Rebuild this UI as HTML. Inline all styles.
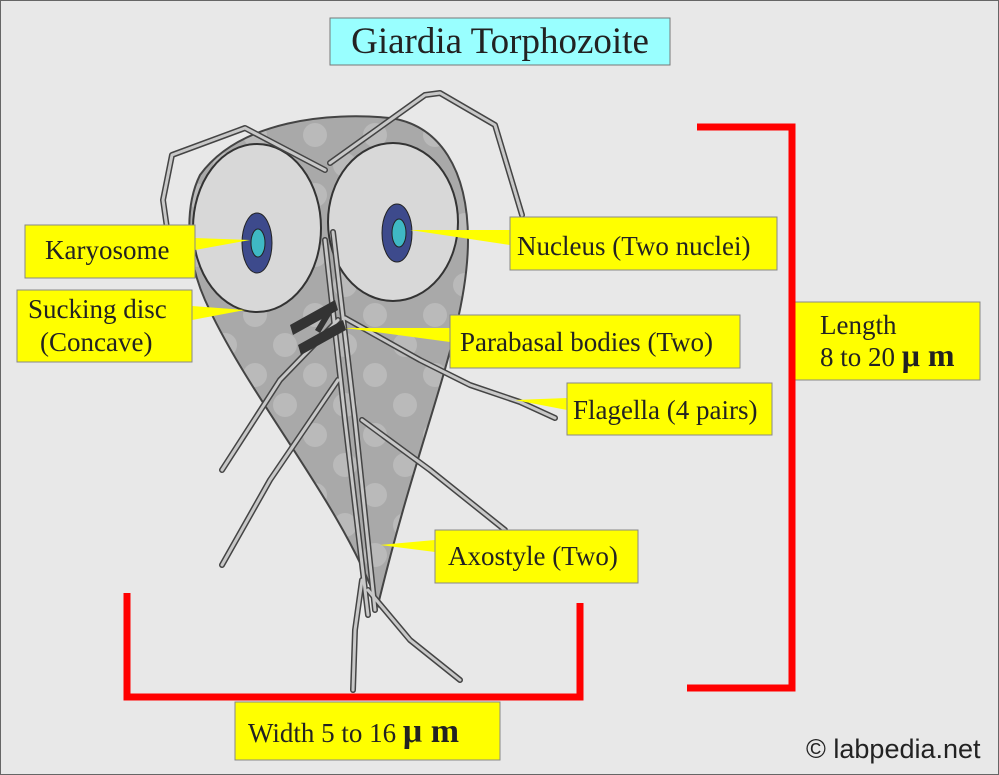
<!DOCTYPE html>
<html><head><meta charset="utf-8"><style>html,body{margin:0;padding:0;background:#e8e8e8}svg{display:block}</style></head><body>
<svg width="999" height="775" viewBox="0 0 999 775" xmlns="http://www.w3.org/2000/svg" font-family="Liberation Serif, serif">
<defs>
<pattern id="dots" width="60" height="60" patternUnits="userSpaceOnUse">
<rect width="60" height="60" fill="#a9a9a9"/>
<circle cx="15" cy="15" r="12" fill="#bababa"/>
<circle cx="45" cy="45" r="12" fill="#bababa"/>
</pattern>
</defs>
<rect x="0.5" y="0.5" width="998" height="774" fill="#e8e8e8" stroke="#666"/>
<rect x="330" y="18" width="340" height="47" fill="#99ffff" stroke="#777"/>
<text x="500" y="53" font-size="37" text-anchor="middle" fill="#222">Giardia Torphozoite</text>

<!-- body -->
<path d="M200,175 C240,120 330,112 390,118 C440,125 468,170 468,240 C468,330 420,430 378,605 C340,500 250,400 205,300 C185,255 185,205 200,175 Z" fill="url(#dots)" stroke="#444" stroke-width="2"/>
<ellipse cx="257" cy="228" rx="64" ry="84" fill="#d8d8d8" stroke="#333" stroke-width="2"/>
<ellipse cx="393" cy="222" rx="65" ry="79" fill="#d8d8d8" stroke="#333" stroke-width="2"/>
<ellipse cx="257" cy="243" rx="15" ry="30" fill="#3d4a8c" stroke="#222"/>
<ellipse cx="258" cy="243" rx="7" ry="14" fill="#3fb8c4" stroke="#222"/>
<ellipse cx="397" cy="233" rx="15" ry="29" fill="#3d4a8c" stroke="#222"/>
<ellipse cx="399" cy="233" rx="7" ry="14" fill="#3fb8c4" stroke="#222"/>

<!-- flagella -->
<g fill="none" stroke-linejoin="round" stroke-linecap="round">
<g stroke="#444" stroke-width="6">
<polyline points="325,170 245,128 172,155 163,200 168,235"/>
<polyline points="330,163 425,95 440,93 495,125 522,215"/>
<polyline points="338,320 280,380 222,470"/>
<polyline points="338,380 270,480 222,565"/>
<polyline points="345,318 420,360 470,385 520,402 555,418"/>
<polyline points="362,420 430,470 505,530"/>
<polyline points="362,580 355,630 353,690"/>
<polyline points="368,590 410,640 460,680"/>
<polyline points="325,240 345,420 368,615"/>
<polyline points="333,232 355,420 375,610"/>
</g>
<g stroke="#c8c8c8" stroke-width="3">
<polyline points="325,170 245,128 172,155 163,200 168,235"/>
<polyline points="330,163 425,95 440,93 495,125 522,215"/>
<polyline points="338,320 280,380 222,470"/>
<polyline points="338,380 270,480 222,565"/>
<polyline points="345,318 420,360 470,385 520,402 555,418"/>
<polyline points="362,420 430,470 505,530"/>
<polyline points="362,580 355,630 353,690"/>
<polyline points="368,590 410,640 460,680"/>
<polyline points="325,240 345,420 368,615"/>
<polyline points="333,232 355,420 375,610"/>
</g>
</g>
<!-- parabasal -->
<g fill="#333">
<polygon points="290,325 335,300 338,310 293,335"/>
<polygon points="298,345 343,320 346,330 301,355"/>
<polygon points="315,330 330,305 335,308 320,333"/>
</g>

<!-- callouts -->
<g fill="#ffff00" stroke="#888">
<polygon points="195,238 250,240 195,250" stroke="none"/>
<rect x="25" y="225" width="170" height="53"/>
<polygon points="192,306 245,310 192,320" stroke="none"/>
<rect x="17" y="290" width="175" height="72"/>
<polygon points="510,230 410,230 510,245" stroke="none"/>
<rect x="510" y="217" width="267" height="53"/>
<polygon points="450,328 345,328 450,342" stroke="none"/>
<rect x="450" y="315" width="290" height="53"/>
<polygon points="567,398 515,400 567,410" stroke="none"/>
<rect x="567" y="383" width="205" height="52"/>
<polygon points="435,540 380,545 435,552" stroke="none"/>
<rect x="435" y="530" width="203" height="53"/>
<rect x="795" y="302" width="185" height="78"/>
<rect x="235" y="702" width="265" height="58"/>
</g>
<g font-size="27" fill="#222">
<text x="45" y="259">Karyosome</text>
<text x="28" y="318">Sucking disc</text>
<text x="40" y="351">(Concave)</text>
<text x="517" y="255">Nucleus (Two nuclei)</text>
<text x="460" y="351">Parabasal bodies (Two)</text>
<text x="573" y="419">Flagella (4 pairs)</text>
<text x="448" y="565">Axostyle (Two)</text>
<text x="820" y="334">Length</text>
<text x="820" y="366">8 to 20 <tspan font-size="32" font-weight="bold">μ m</tspan></text>
<text x="248" y="742">Width  5 to 16 <tspan font-size="34" font-weight="bold">μ m</tspan></text>
</g>

<!-- brackets -->
<g fill="none" stroke="#ff0000" stroke-width="7">
<polyline points="697,127 792,127 792,688 687,688"/>
<polyline points="127,593 127,697 580,697 580,603"/>
</g>
<text x="806" y="758" font-size="27" fill="#222" font-family="Liberation Sans, sans-serif">© labpedia.net</text>
</svg>
</body></html>
